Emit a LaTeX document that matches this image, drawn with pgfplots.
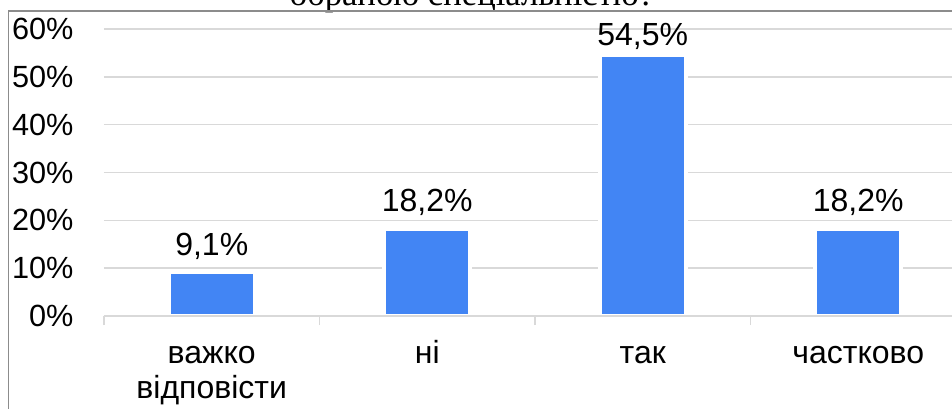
\documentclass[border=0pt]{standalone}
\usepackage{fontspec}
\setmainfont{Liberation Sans}
\newfontfamily\titleserif{Liberation Serif}
\usepackage{pgfplots}
\usepackage{pgfplotstable}
\pgfplotsset{compat=1.18}
\definecolor{barblue}{HTML}{4285F4}
\definecolor{gridgray}{HTML}{D9D9D9}
\definecolor{framegray}{HTML}{8C8C8C}
\pgfplotstableread{
x y dy
0 9.1 13
1 18.2 13
2 54.5 7
3 18.2 13
}\datatable
\begin{document}
\begin{tikzpicture}
\useasboundingbox (0,0) rectangle (714pt,306pt);
\clip (0,0) rectangle (714pt,306pt);
\node[anchor=base, font=\titleserif\fontsize{26}{30}\selectfont, inner sep=0pt] at (354pt,301.5pt) {обраною спеціальністю?};
\draw[framegray, line width=0.9pt] (6.4pt,-1pt) -- (6.4pt,297.75pt) -- (720pt,297.75pt);
\begin{axis}[
 at={(78pt,69pt)}, anchor=south west,
 scale only axis, width=646.5pt, height=215.25pt,
 xmin=-0.5, xmax=3.5, ymin=0, ymax=60,
 axis line style={draw=none},
 ymajorgrids, grid style={gridgray, line width=1.1pt},
 ytick={0,10,...,60}, yticklabels={0\%,10\%,20\%,30\%,40\%,50\%,60\%},
 ytick style={draw=none},
 yticklabel style={anchor=east, inner sep=0pt, xshift=-16pt, font=\fontsize{23}{26}\selectfont},
 xtick={-0.5,0.5,1.5,2.5,3.5}, xticklabels={},
 xtick style={gridgray, line width=1.1pt},
 major tick length=6.75pt,
 tick align=outside, xtick pos=lower,
 extra x ticks={0,1,2,3},
 extra x tick labels={важко\\відповісти, ні\\\mbox{}, так\\\mbox{}, частково\\\mbox{}},
 extra x tick style={major tick length=0pt, xticklabel style={align=center, anchor=base, inner sep=0pt, yshift=-61.5pt, font=\fontsize{24}{26.25}\selectfont}},
 /pgf/number format/assume math mode=true,
 clip=false,
 ]
\addplot[ybar, bar width=64.5pt, fill=barblue, draw=white, line width=3pt,
 nodes near coords={\pgfmathprintnumber[fixed,fixed zerofill,precision=1,use comma]{\pgfplotspointmeta}\%},
 point meta=y,
 visualization depends on={\thisrow{dy} \as \dy},
 every node near coord/.append style={anchor=base, inner sep=0pt, yshift=\dy pt, font=\fontsize{24}{26}\selectfont, text=black},
] table[x=x,y=y] {\datatable};
\addplot[gridgray, line width=1.1pt, forget plot] coordinates {(-0.5,0) (3.5,0)};
\end{axis}
\end{tikzpicture}
\end{document}
